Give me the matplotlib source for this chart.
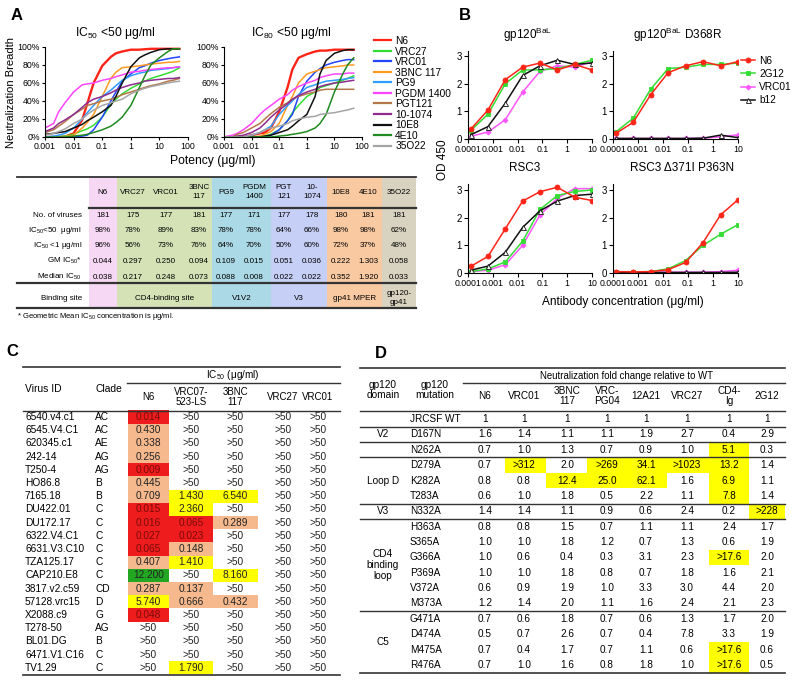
import numpy as np
import matplotlib
matplotlib.use('Agg')
import matplotlib.pyplot as plt
from matplotlib.lines import Line2D

plt.rcParams['font.family'] = ['Liberation Sans', 'DejaVu Sans']
plt.rcParams['mathtext.default'] = 'regular'

W, H = 800, 685

# ---------------- panel A: breadth-potency curves ----------------
pot_x = [0.001, 0.002, 0.003, 0.005, 0.01, 0.02, 0.03, 0.05, 0.1, 0.2,
         0.3, 0.5, 1, 2, 3, 5, 10, 20, 30, 50]
ab_names = ['N6', 'VRC27', 'VRC01', '3BNC 117', 'PG9', 'PGDM 1400', 'PGT121',
            '10-1074', '10E8', '4E10', '35O22']
ic50_breadth = [
    [0, 0, 0, 0.5, 4, 19, 37, 60, 79, 89, 93, 95, 97, 97, 97.5, 98, 98, 98, 98, 98],
    [0, 0, 0.5, 1, 3, 7, 9, 13, 22, 36, 42, 48, 54, 59, 62, 65, 68, 71, 73, 77],
    [0, 0, 0, 0, 0, 1, 2, 8, 22, 40, 50, 62, 70, 77, 79, 82, 85, 87, 88, 89],
    [0, 0, 0, 0.5, 2, 10, 16, 25, 45, 65, 72, 77, 78, 79, 80, 81, 82, 83, 83, 84],
    [0, 1, 2, 4, 10, 20, 27, 35, 45, 52, 57, 63, 68, 71, 72, 74, 75, 76, 77, 78],
    [10, 15, 28, 38, 50, 58, 59, 60, 63, 65, 67, 69, 72, 73, 74, 75, 76, 77, 77, 78],
    [5, 8, 12, 17, 25, 31, 35, 37, 40, 42, 44, 47, 50, 53, 55, 57, 59, 62, 63, 65],
    [6, 10, 15, 19, 25, 33, 38, 42, 45, 49, 52, 55, 58, 60, 62, 63, 64, 65, 65, 66],
    [3, 4, 5, 6, 10, 14, 18, 22, 28, 35, 45, 60, 78, 88, 91, 94, 97, 98, 98, 98],
    [0, 0, 0, 0, 1, 2, 3, 5, 8, 12, 16, 22, 35, 55, 67, 80, 88, 95, 98, 98],
    [2, 4, 6, 9, 15, 20, 25, 30, 35, 38, 40, 42, 48, 52, 54, 56, 58, 60, 61, 62],
]
ic80_breadth = [
    [0, 0, 0, 0, 2, 4, 5, 10, 28, 55, 75, 88, 92, 95, 96, 96, 97, 97, 97, 97],
    [0, 0, 0, 0, 0, 0, 1, 3, 8, 18, 27, 35, 45, 50, 55, 57, 60, 63, 65, 68],
    [0, 0, 0, 0, 0, 0, 0, 2, 8, 18, 25, 45, 62, 72, 76, 80, 83, 85, 86, 86],
    [0, 0, 0, 0, 0, 1, 3, 6, 15, 35, 45, 60, 70, 73, 75, 77, 78, 79, 80, 80],
    [0, 0, 0, 0, 2, 5, 8, 12, 25, 35, 40, 47, 55, 58, 60, 62, 63, 64, 65, 66],
    [0, 2, 4, 8, 15, 25, 30, 35, 42, 47, 52, 56, 60, 63, 66, 68, 70, 70, 71, 71],
    [0, 0, 3, 5, 10, 15, 20, 26, 33, 38, 42, 45, 48, 50, 52, 53, 53, 53, 53, 53],
    [0, 0, 1, 2, 5, 10, 15, 22, 30, 37, 42, 46, 50, 53, 56, 58, 60, 61, 62, 63],
    [0, 0, 0, 0, 0, 0, 1, 2, 5, 8, 12, 18, 25, 45, 70, 85, 93, 96, 97, 97],
    [0, 0, 0, 0, 0, 0, 0, 0, 1, 2, 3, 4, 6, 10, 15, 25, 50, 70, 80, 88],
    [0, 0, 0, 0, 2, 5, 8, 10, 12, 15, 18, 20, 22, 23, 25, 26, 27, 29, 30, 32],
]
ab_colors = ['#ff2418', '#33dd33', '#2244ff', '#ff9a22', '#2f9cff', '#ff44ff',
             '#b5774a', '#8e2c8e', '#111111', '#1f8a1f', '#a5a5a5']

# table in panel A
tab_abs = ['N6', 'VRC27', 'VRC01', '3BNC\n117', 'PG9', 'PGDM\n1400', 'PGT\n121',
           '10-\n1074', '10E8', '4E10', '35O22']
n_viruses = ['181', '175', '177', '181', '177', '171', '177', '178', '180', '181', '181']
pct_ic50_50 = ['98%', '78%', '89%', '83%', '78%', '78%', '64%', '66%', '98%', '98%', '62%']
pct_ic50_1 = ['96%', '56%', '73%', '76%', '64%', '70%', '50%', '60%', '72%', '37%', '48%']
gm_ic50 = ['0.044', '0.297', '0.250', '0.094', '0.109', '0.015', '0.051', '0.036',
           '0.222', '1.303', '0.058']
median_ic50 = ['0.038', '0.217', '0.248', '0.073', '0.088', '0.008', '0.022', '0.022',
               '0.352', '1.920', '0.033']
sites = ['', 'CD4-binding site', 'V1V2', 'V3', 'gp41 MPER', 'gp120-\ngp41']
site_ncols = [1, 3, 2, 2, 2, 1]

# ---------------- panel B: ELISA ----------------
conc = [0.000128, 0.00064, 0.0032, 0.016, 0.08, 0.4, 2, 10]
elisa_abs = ['N6', '2G12', 'VRC01', 'b12']
od_gp120 = [[0.35, 1.05, 2.15, 2.6, 2.75, 2.5, 2.7, 2.5],
            [0.3, 0.9, 2.0, 2.5, 2.5, 2.55, 2.7, 2.85],
            [0.1, 0.25, 0.7, 1.7, 2.45, 2.65, 2.6, 2.8],
            [0.15, 0.45, 1.3, 2.3, 2.65, 2.85, 2.7, 2.75]]
od_d368r = [[0.2, 0.6, 1.6, 2.4, 2.65, 2.8, 2.65, 2.8],
            [0.25, 0.75, 1.8, 2.55, 2.6, 2.7, 2.7, 2.75],
            [0.02, 0.02, 0.02, 0.02, 0.02, 0.03, 0.08, 0.15],
            [0.02, 0.02, 0.02, 0.02, 0.02, 0.03, 0.14, 0.05]]
od_rsc3 = [[0.24, 0.6, 1.6, 2.6, 2.94, 3.1, 2.74, 2.62],
           [0.05, 0.15, 0.4, 1.15, 2.3, 2.8, 2.95, 3.0],
           [0.05, 0.1, 0.3, 1.0, 2.1, 2.7, 3.05, 3.05],
           [0.1, 0.25, 0.75, 1.65, 2.25, 2.6, 2.8, 2.85]]
od_rsc3_mut = [[0.05, 0.04, 0.05, 0.12, 0.38, 1.1, 2.1, 2.65],
               [0.04, 0.04, 0.05, 0.15, 0.45, 1.0, 1.4, 1.75],
               [0.03, 0.03, 0.03, 0.03, 0.03, 0.03, 0.05, 0.1],
               [0.02, 0.02, 0.02, 0.02, 0.02, 0.02, 0.02, 0.03]]
elisa_titles = [r'gp120$^{BaL}$', r'gp120$^{BaL}$ D368R', 'RSC3', 'RSC3 Δ371I P363N']

# ---------------- panel C: IC50 table ----------------
virus_ids = ['6540.v4.c1', '6545.V4.C1', '620345.c1', '242-14', 'T250-4', 'HO86.8',
             '7165.18', 'DU422.01', 'DU172.17', '6322.V4.C1', '6631.V3.C10',
             'TZA125.17', 'CAP210.E8', '3817.v2.c59', '57128.vrc15', 'X2088.c9',
             'T278-50', 'BL01.DG', '6471.V1.C16', 'TV1.29']
clades = ['AC', 'AC', 'AE', 'AG', 'AG', 'B', 'B', 'C', 'C', 'C', 'C', 'C', 'C',
          'CD', 'D', 'G', 'AG', 'B', 'C', 'C']
c_abs = ['N6', 'VRC07-\n523-LS', '3BNC\n117', 'VRC27', 'VRC01']
ic50_n6 = ['0.014', '0.430', '0.338', '0.256', '0.009', '0.445', '0.709', '0.015',
           '0.016', '0.027', '0.065', '0.407', '12.200', '0.287', '5.740', '0.048',
           '>50', '>50', '>50', '>50']
ic50_vrc07 = ['>50'] * 6 + ['1.430', '2.360', '0.065', '0.023', '0.148', '1.410',
                            '>50', '0.137', '0.666', '>50', '>50', '>50', '>50', '1.790']
ic50_3bnc = ['>50'] * 6 + ['6.540', '>50', '0.289', '>50', '>50', '>50', '8.160',
                           '>50', '0.432', '>50', '>50', '>50', '>50', '>50']
ic50_vrc27 = ['>50'] * 20
ic50_vrc01 = ['>50'] * 20

# ---------------- panel D: fold change table ----------------
mutations = ['JRCSF WT', 'D167N', 'N262A', 'D279A', 'K282A', 'T283A', 'N332A',
             'H363A', 'S365A', 'G366A', 'P369A', 'V372A', 'M373A', 'G471A',
             'D474A', 'M475A', 'R476A']
domains = [('', 0, 0), ('V2', 1, 1), ('', 2, 2), ('Loop D', 3, 5), ('V3', 6, 6),
           ('CD4\nbinding\nloop', 7, 12), ('C5', 13, 16)]
d_abs = ['N6', 'VRC01', '3BNC\n117', 'VRC-\nPG04', '12A21', 'VRC27', 'CD4-\nIg', '2G12']
fold_n6 = ['1', '1.6', '0.7', '0.7', '0.8', '0.6', '1.4', '0.8', '1.0', '1.0', '1.0',
           '0.6', '1.2', '0.7', '0.5', '0.7', '0.7']
fold_vrc01 = ['1', '1.4', '1.0', '>312', '0.8', '1.0', '1.4', '0.8', '1.0', '0.6', '1.0',
              '0.9', '1.4', '0.6', '0.7', '0.4', '1.0']
fold_3bnc = ['1', '1.1', '1.3', '2.0', '12.4', '1.8', '1.1', '1.5', '1.8', '0.4', '1.8',
             '1.9', '2.0', '1.8', '2.6', '1.7', '1.6']
fold_pg04 = ['1', '1.1', '0.7', '>269', '25.0', '0.5', '0.9', '0.7', '1.2', '0.3', '0.8',
             '1.0', '1.1', '0.7', '0.7', '0.7', '0.8']
fold_12a21 = ['1', '1.9', '0.9', '34.1', '62.1', '2.2', '0.6', '1.1', '0.7', '3.1', '0.7',
              '3.3', '1.6', '0.6', '0.4', '1.1', '1.8']
fold_vrc27 = ['1', '2.7', '1.0', '>1023', '1.6', '1.1', '2.4', '1.1', '1.3', '2.3', '1.8',
              '3.0', '2.4', '1.3', '7.8', '0.6', '1.0']
fold_cd4ig = ['1', '0.4', '5.1', '13.2', '6.9', '7.8', '0.2', '2.4', '0.6', '>17.6', '1.6',
              '4.4', '2.1', '1.7', '3.3', '>17.6', '>17.6']
fold_2g12 = ['1', '2.9', '0.3', '1.4', '1.1', '1.4', '>228', '1.7', '1.9', '2.0', '2.1',
             '2.0', '2.3', '2.0', '1.9', '0.6', '0.5']
# highlighted (row, column) cells
d_highlight = [(3, 1), (4, 2), (3, 3), (4, 3), (3, 4), (4, 4), (3, 5),
               (2, 6), (3, 6), (4, 6), (5, 6), (9, 6), (15, 6), (16, 6), (6, 7)]


def fx(x):
    return x / W


def fy(y):
    return 1 - y / H


def add_ax(x0, y0, x1, y1):
    a = fig.add_axes([x0 / W, 1 - y1 / H, (x1 - x0) / W, (y1 - y0) / H])
    a.patch.set_alpha(0)
    return a


fig = plt.figure(figsize=(8.0, 6.85), dpi=100)
tab = fig.add_axes([0, 0, 1, 1], zorder=0)
tab.set_xlim(0, W)
tab.set_ylim(H, 0)
tab.axis('off')

LC = '#333333'

# ---- panel A plots ----
def breadth_axis(x0, x1, data, title, tx):
    a = add_ax(x0, 47, x1, 137)
    for vals, c in zip(data, ab_colors):
        a.plot(pot_x, vals, color=c, lw=1.7 if c == ab_colors[0] else 1.1)
    a.set_xscale('log')
    a.set_xlim(0.001, 100)
    a.set_ylim(0, 100)
    a.set_xticks([0.001, 0.01, 0.1, 1, 10, 100])
    a.set_xticklabels(['0.001', '0.01', '0.1', '1', '10', '100'])
    a.set_yticks([0, 20, 40, 60, 80, 100])
    a.set_yticklabels(['0%', '20%', '40%', '60%', '80%', '100%'])
    a.minorticks_off()
    a.tick_params(labelsize=6.3, length=2.5, width=0.8, pad=1.2)
    for s in ['top', 'right']:
        a.spines[s].set_visible(False)
    fig.text(fx(tx), fy(33), title, ha='center', va='center', fontsize=8.7)
    return a

axA1 = breadth_axis(45, 188, ic50_breadth, r'IC$_{50}$ <50 μg/ml', 115)
axA2 = breadth_axis(224, 362, ic80_breadth, r'IC$_{80}$ <50 μg/ml', 291)
fig.text(fx(11), fy(92), 'Neutralization Breadth', rotation=90, ha='center',
         va='center', fontsize=8.0)
fig.text(fx(213), fy(161), 'Potency (μg/ml)', ha='center', va='center', fontsize=8.7)
handles = [Line2D([], [], color=c, lw=1.6) for c in ab_colors]
axA2.legend(handles, ab_names, loc='upper left', bbox_to_anchor=(fx(374), fy(36)),
            bbox_transform=fig.transFigure, frameon=False, fontsize=7.3,
            handlelength=1.7, handletextpad=0.4, labelspacing=0.05,
            borderpad=0, borderaxespad=0)

# ---- panel A table ----
edges = [89, 117, 212, 271, 327, 382, 416]
site_colors = ['#f6d8f4', '#d4e2b6', '#acd9e6', '#c6cff6', '#f9caa2', '#d8d3c0']
col_x = [103, 133, 166, 199, 226, 254, 284, 312, 341, 368, 399]
for i in range(len(site_ncols)):
    tab.add_patch(plt.Rectangle((edges[i], 177), edges[i + 1] - edges[i], 131,
                                color=site_colors[i], lw=0, zorder=0))
    tab.text((edges[i] + edges[i + 1]) / 2, 298, sites[i], ha='center', va='center',
             fontsize=5.8, linespacing=1.5)
tab.plot([17, 416], [177, 177], color=LC, lw=1.3)
tab.plot([89, 416], [208, 208], color=LC, lw=1.6)
tab.plot([17, 416], [283, 283], color=LC, lw=1.6)
tab.plot([17, 416], [308, 308], color=LC, lw=1.6)
row_labels = ['No. of viruses', r'IC$_{50}$<50  μg/ml', r'IC$_{50}$ <1 μg/ml',
              r'GM IC$_{50}$*', r'Median IC$_{50}$']
row_vals = [n_viruses, pct_ic50_50, pct_ic50_1, gm_ic50, median_ic50]
row_y = [215, 230, 245, 261, 277]
for lab, vals, yy in zip(row_labels, row_vals, row_y):
    tab.text(82, yy, lab, ha='right', va='center', fontsize=5.8)
    for xx, v in zip(col_x, vals):
        tab.text(xx, yy, v, ha='center', va='center', fontsize=5.8)
for xx, name in zip(col_x, tab_abs):
    tab.text(xx, 192, name, ha='center', va='center', fontsize=5.8, linespacing=1.5)
tab.text(62, 298, 'Binding site', ha='center', va='center', fontsize=5.8)
tab.text(17, 316, r'* Geometric Mean IC$_{50}$ concentration is μg/ml.',
         ha='left', va='center', fontsize=5.5)

# ---- panel B ----
styles = [dict(color='#ff2418', marker='o', ms=3.6, mfc='#ff2418'),
          dict(color='#33dd33', marker='s', ms=3.0, mfc='#33dd33'),
          dict(color='#ff55ff', marker='D', ms=2.6, mfc='#ff55ff'),
          dict(color='#111111', marker='^', ms=3.6, mfc='white')]
b_boxes = [(468, 50.6, 592, 139), (613, 50.6, 738, 139),
           (468, 184.5, 592, 273), (613, 184.5, 738, 273)]
b_title_pos = [(528, 35), (678, 35), (525, 168), (682, 168)]
b_data = [od_gp120, od_d368r, od_rsc3, od_rsc3_mut]
b_axes = []
for box, data, ttl, tp in zip(b_boxes, b_data, elisa_titles, b_title_pos):
    a = add_ax(*box)
    for k in [2, 1, 3, 0]:
        a.plot(conc, data[k], lw=1.1, mew=0.6, **styles[k])
    a.set_xscale('log')
    a.set_xlim(0.0001, 10)
    a.set_ylim(0, 3.2)
    a.set_xticks([0.0001, 0.001, 0.01, 0.1, 1, 10])
    a.set_xticklabels(['0.0001', '0.001', '0.01', '0.1', '1', '10'])
    a.set_yticks([0, 1, 2, 3])
    a.minorticks_off()
    a.tick_params(axis='x', labelsize=6.3, length=3, width=0.8, pad=1.5)
    a.tick_params(axis='y', labelsize=7, length=3, width=0.8, pad=1.5)
    for s in ['top', 'right']:
        a.spines[s].set_visible(False)
    fig.text(fx(tp[0]), fy(tp[1]), ttl, ha='center', va='center', fontsize=8.5)
    b_axes.append(a)
bh = [Line2D([], [], lw=1.1, mew=0.6, **styles[k]) for k in range(4)]
b_axes[1].legend(bh, elisa_abs, loc='upper left', bbox_to_anchor=(fx(741), fy(56)),
                 bbox_transform=fig.transFigure, frameon=False, fontsize=7.3,
                 handlelength=1.4, handletextpad=0.4, labelspacing=0.3,
                 borderpad=0, borderaxespad=0)
fig.text(fx(443), fy(160), 'OD 450', rotation=90, ha='center', va='center', fontsize=8.5)
fig.text(fx(623), fy(302), 'Antibody concentration (μg/ml)', ha='center', va='center',
         fontsize=8.6)

# ---- panel C table ----
def ic50_color(v):
    if v.startswith('>'):
        return None
    f = float(v)
    if f < 0.1:
        return '#ee1c1c'
    if f < 1:
        return '#f6b98e'
    if f < 10:
        return '#ffff00'
    return '#22a722'

c_cols = [ic50_n6, ic50_vrc07, ic50_3bnc, ic50_vrc27, ic50_vrc01]
c_x = [148.5, 191, 235.5, 283, 318]
c_w = [41, 44, 45, 40, 36]
row_h = 13.2
tab.plot([23, 340], [367, 367], color=LC, lw=1.2)
tab.plot([127, 340], [383, 383], color=LC, lw=1.0)
tab.plot([23, 340], [411, 411], color=LC, lw=1.0)
tab.plot([23, 340], [675, 675], color=LC, lw=1.2)
tab.text(233, 375, r'IC$_{50}$ (μg/ml)', ha='center', va='center', fontsize=7.2)
tab.text(25, 389, 'Virus ID', ha='left', va='center', fontsize=7.4)
tab.text(95, 389, 'Clade', ha='left', va='center', fontsize=7.4)
for xx, name in zip(c_x, c_abs):
    tab.text(xx, 397, name, ha='center', va='center', fontsize=7.0, linespacing=1.1)
for i in range(len(virus_ids)):
    yy = 417 + i * row_h
    tab.text(25, yy, virus_ids[i], ha='left', va='center', fontsize=7.3)
    tab.text(95, yy, clades[i], ha='left', va='center', fontsize=7.3)
    for xx, ww, col in zip(c_x, c_w, c_cols):
        fc = ic50_color(col[i])
        tcol = '#222222'
        if fc is not None:
            tab.add_patch(plt.Rectangle((xx - ww / 2, yy - row_h / 2), ww, row_h,
                                        color=fc, lw=0, zorder=0))
            if fc == '#ee1c1c':
                tcol = '#7a0a0a'
        tab.text(xx, yy, col[i], ha='center', va='center', fontsize=7.3, color=tcol)

# ---- panel D table ----
d_cols = [fold_n6, fold_vrc01, fold_3bnc, fold_pg04, fold_12a21, fold_vrc27,
          fold_cd4ig, fold_2g12]
d_x = [485, 524, 567, 607, 646, 687, 729, 767]
d_edges = [466, 505, 546, 587, 627, 667, 709, 749, 785]
d_h = 15.375
tab.plot([360, 785], [368, 368], color=LC, lw=1.2)
tab.plot([463, 785], [383, 383], color=LC, lw=1.0)
tab.plot([360, 785], [410.5, 410.5], color=LC, lw=1.0)
tab.text(627, 376, 'Neutralization fold change relative to WT', ha='center',
         va='center', fontsize=6.9)
tab.text(383, 390, 'gp120\ndomain', ha='center', va='center', fontsize=7.3,
         linespacing=1.1)
tab.text(435, 390, 'gp120\nmutation', ha='center', va='center', fontsize=7.3,
         linespacing=1.1)
for xx, name in zip(d_x, d_abs):
    tab.text(xx, 396, name, ha='center', va='center', fontsize=7.2, linespacing=1.05)
for (r, c) in d_highlight:
    tab.add_patch(plt.Rectangle((d_edges[c], 419 + (r - 0.5) * d_h),
                                d_edges[c + 1] - d_edges[c], d_h,
                                color='#ffff00', lw=0, zorder=0))
for i, m in enumerate(mutations):
    yy = 419 + i * d_h
    tab.text(410, yy, m, ha='left', va='center', fontsize=7.2)
    for xx, col in zip(d_x, d_cols):
        tab.text(xx, yy, col[i], ha='center', va='center', fontsize=7.2)
for name, r0, r1 in domains:
    yb = 419 + (r1 + 0.5) * d_h
    tab.plot([360, 785], [yb, yb], color=LC, lw=1.0 if r1 < 16 else 1.2)
    tab.text(383, 419 + (r0 + r1) / 2 * d_h, name, ha='center', va='center',
             fontsize=7.2, linespacing=1.1)

# ---- panel letters ----
for lab, xx, yy in [('A', 17, 15), ('B', 465, 15), ('C', 12, 351), ('D', 381, 354)]:
    fig.text(fx(xx), fy(yy), lab, ha='center', va='center', fontsize=12,
             fontweight='bold')

fig.savefig('out.png', dpi=100, facecolor='white')
